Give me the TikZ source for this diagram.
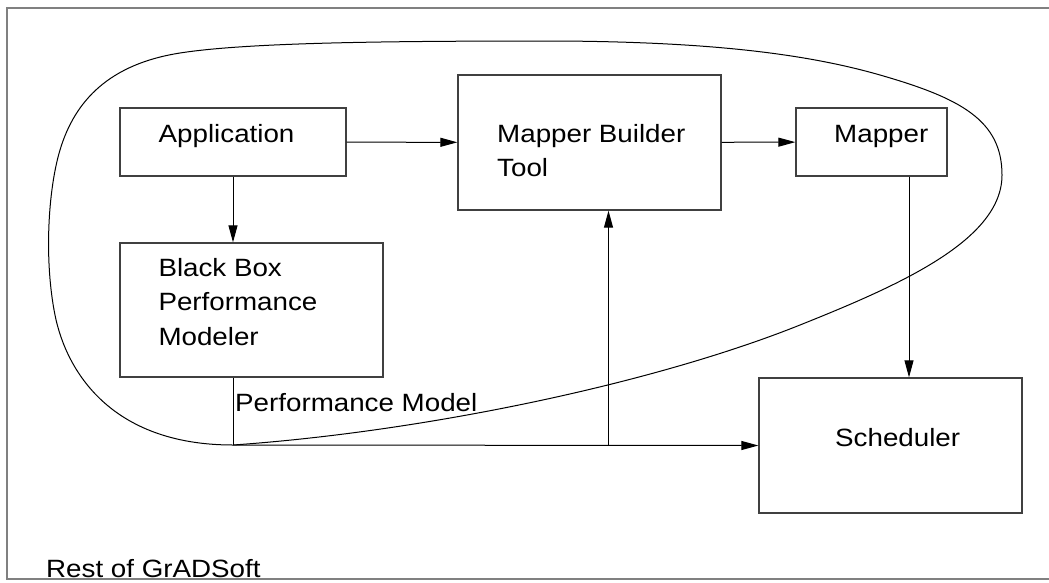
\documentclass[tikz,border=0pt]{standalone}
\usepackage{fontspec}
\setmainfont{Liberation Sans}[FakeStretch=1.11]
\usetikzlibrary{arrows.meta}
\begin{document}
\begin{tikzpicture}[x=1pt,y=-1pt,
  box/.style={draw=black!75,line width=1.3pt,inner sep=0pt,minimum width=#1},
  lbl/.style={anchor=base west,inner sep=0pt,font=\fontsize{25}{30}\selectfont},
  conn/.style={draw=black,line width=1pt},
  arr/.style={conn,-{Triangle[length=17pt,width=9pt]}},
  frame/.style={draw=black!50,line width=2pt}]
\useasboundingbox (0,0) rectangle (1049,582);
% outer frame (right side beyond the picture)
\draw[frame] (1060,7.7) -- (7,7.7) -- (7,579) -- (1060,579);
% enclosing curve
\draw[line width=1pt] (233,445)
  .. controls (420,432) and (650,385) .. (800,325)
  .. controls (900,285) and (1002,240) .. (1002,175)
  .. controls (1002,120) and (960,98) .. (880,75)
  .. controls (800,52) and (700,42) .. (560,41)
  .. controls (400,41) and (250,42) .. (180,53)
  .. controls (110,64) and (75,100) .. (60,150)
  .. controls (48,190) and (44,260) .. (55,315)
  .. controls (66,370) and (110,445) .. cycle;
% boxes
\node[box=226pt,minimum height=68pt] (app) at (233,142) {};
\node[box=263pt,minimum height=135pt] (mbt) at (589.5,142.5) {};
\node[box=151pt,minimum height=68pt] (mapper) at (871.5,142) {};
\node[box=263pt,minimum height=134pt] (bb) at (251.5,310) {};
\node[box=263pt,minimum height=135pt] (sched) at (890.5,445.5) {};
% texts
\node[lbl] (tapp) at (158.5,142.7) {Application};
\node[lbl] (tmbt1) at (497,142) {Mapper Builder};
\node[lbl] (tmbt2) at (497,176) {Tool};
\node[lbl] (tmap) at (834,142) {Mapper};
\node[lbl] (tbb1) at (158.3,276.7) {Black Box};
\node[lbl] (tbb2) at (158.3,310.7) {Performance};
\node[lbl] (tbb3) at (158.3,345) {Modeler};
\node[lbl] (tpm) at (235,411.7) {Performance Model};
\node[lbl] (tsch) at (835,446) {Scheduler};
\node[lbl] (trest) at (46,577.5) {Rest of GrADSoft};
% junctions
\coordinate (j1) at (233,445);
\coordinate (j2) at (608.5,445);
\coordinate (mx) at (909,0);
% connectors
\draw[arr] (app) -- (mbt);
\draw[arr] (mbt) -- (mapper);
\draw[arr] (app.south) -- (app.south |- bb.north);
\draw[conn] (app.south |- bb.south) -- (j1);
\draw[arr] (j1) -- (sched.west);
\draw[arr] (j2) -- (j2 |- mbt.south);
\draw[arr] (mapper.south -| mx) -- (sched.north -| mx);
\end{tikzpicture}
\end{document}
